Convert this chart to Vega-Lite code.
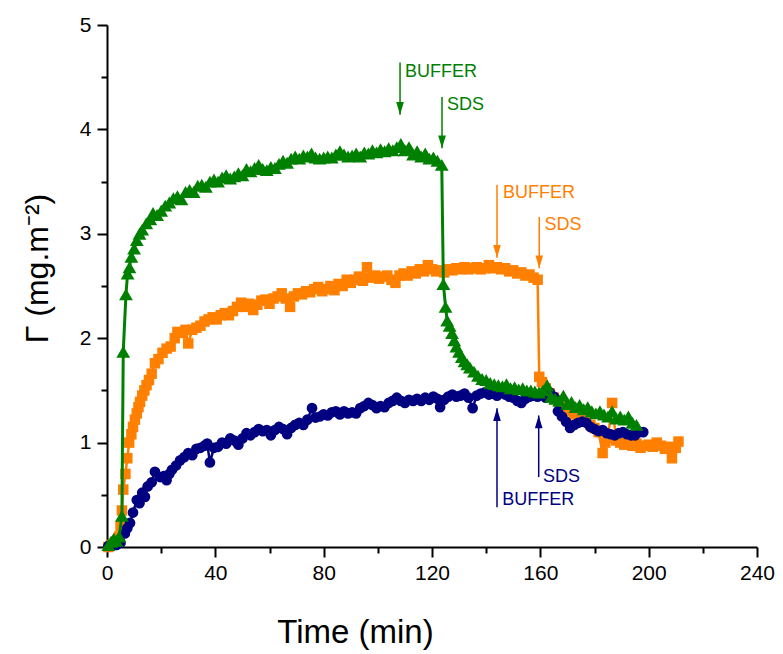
{
  "$schema": "https://vega.github.io/schema/vega-lite/v6.json",
  "width": 650,
  "height": 522,
  "autosize": {"type": "none"},
  "padding": {"left": 107, "top": 25, "right": 26, "bottom": 107},
  "background": "white",
  "config": {
    "view": {"stroke": null},
    "font": "Liberation Sans",
    "axis": {
      "grid": false,
      "domainColor": "black",
      "domainWidth": 2,
      "tickColor": "black",
      "tickWidth": 2,
      "labelColor": "black",
      "labelFont": "Liberation Sans",
      "labelFontSize": 21,
      "titleColor": "black",
      "titleFontWeight": "normal"
    }
  },
  "datasets": {
    "orange": [
      {"t":0.5,"g":0.0},{"t":1.5,"g":0.02},{"t":2.5,"g":0.03},{"t":3.5,"g":0.05},{"t":4.5,"g":0.1},{"t":5,"g":0.2},{"t":5.5,"g":0.35},{"t":6,"g":0.55},{"t":6.8,"g":0.7},{"t":7.5,"g":0.85},{"t":8.2,"g":1.0},{"t":9,"g":1.08},{"t":9.6,"g":1.15},{"t":10.3,"g":1.22},{"t":11,"g":1.28},{"t":11.6,"g":1.34},{"t":12.2,"g":1.39},{"t":13,"g":1.45},{"t":13.8,"g":1.5},{"t":14.6,"g":1.55},{"t":15.5,"g":1.6},{"t":16.5,"g":1.66},{"t":17.7,"g":1.76},{"t":19,"g":1.8},{"t":20.5,"g":1.86},{"t":22,"g":1.9},{"t":23.5,"g":1.92},{"t":25,"g":2.0},{"t":26,"g":2.06},{"t":27.5,"g":2.05},{"t":29,"g":2.08},{"t":30,"g":1.95},{"t":31.5,"g":2.08},{"t":33,"g":2.1},{"t":34.5,"g":2.12},{"t":36,"g":2.16},{"t":37.5,"g":2.18},{"t":39,"g":2.2},{"t":40.5,"g":2.18},{"t":42,"g":2.22},{"t":43.5,"g":2.24},{"t":45,"g":2.22},{"t":46.5,"g":2.26},{"t":48,"g":2.3},{"t":49.5,"g":2.34},{"t":51,"g":2.3},{"t":52.5,"g":2.33},{"t":54,"g":2.27},{"t":55.5,"g":2.32},{"t":57,"g":2.36},{"t":58.5,"g":2.37},{"t":60,"g":2.33},{"t":61.5,"g":2.38},{"t":63,"g":2.4},{"t":64.5,"g":2.43},{"t":66,"g":2.38},{"t":67.6,"g":2.3},{"t":69,"g":2.4},{"t":70.5,"g":2.43},{"t":72,"g":2.42},{"t":73.5,"g":2.45},{"t":75,"g":2.44},{"t":76.5,"g":2.47},{"t":78,"g":2.49},{"t":79.5,"g":2.45},{"t":81,"g":2.47},{"t":82.5,"g":2.5},{"t":84,"g":2.46},{"t":85.5,"g":2.52},{"t":87,"g":2.5},{"t":88.5,"g":2.56},{"t":90,"g":2.53},{"t":91.5,"g":2.56},{"t":93,"g":2.59},{"t":94.5,"g":2.55},{"t":96,"g":2.68},{"t":97.5,"g":2.58},{"t":99,"g":2.6},{"t":100.5,"g":2.57},{"t":102,"g":2.59},{"t":103.5,"g":2.6},{"t":105,"g":2.56},{"t":106.5,"g":2.53},{"t":108,"g":2.6},{"t":109.5,"g":2.62},{"t":111,"g":2.6},{"t":112.5,"g":2.64},{"t":114,"g":2.62},{"t":115.5,"g":2.66},{"t":117,"g":2.64},{"t":118.5,"g":2.7},{"t":120,"g":2.66},{"t":121.5,"g":2.64},{"t":123,"g":2.65},{"t":124.5,"g":2.63},{"t":126,"g":2.66},{"t":127.5,"g":2.65},{"t":129,"g":2.67},{"t":130.5,"g":2.66},{"t":132,"g":2.68},{"t":133.5,"g":2.66},{"t":135,"g":2.67},{"t":136.5,"g":2.68},{"t":138,"g":2.66},{"t":139.5,"g":2.67},{"t":141,"g":2.7},{"t":142.5,"g":2.67},{"t":144,"g":2.68},{"t":145.5,"g":2.66},{"t":147,"g":2.67},{"t":148.5,"g":2.64},{"t":150,"g":2.65},{"t":151.5,"g":2.62},{"t":153,"g":2.63},{"t":154.5,"g":2.6},{"t":156,"g":2.61},{"t":157.5,"g":2.58},{"t":159,"g":2.56},{"t":159.6,"g":1.63},{"t":160.6,"g":1.58},{"t":162,"g":1.52},{"t":163.5,"g":1.47},{"t":165,"g":1.43},{"t":166.5,"g":1.4},{"t":168,"g":1.36},{"t":169.5,"g":1.33},{"t":171,"g":1.3},{"t":172.5,"g":1.27},{"t":174,"g":1.25},{"t":175.5,"g":1.22},{"t":177,"g":1.2},{"t":178.5,"g":1.17},{"t":180,"g":1.14},{"t":181.5,"g":1.1},{"t":183,"g":0.9},{"t":184,"g":1.0},{"t":185,"g":1.05},{"t":186.5,"g":1.38},{"t":188,"g":1.02},{"t":189.5,"g":1.0},{"t":191,"g":0.98},{"t":192.5,"g":1.01},{"t":194,"g":0.97},{"t":195.5,"g":0.99},{"t":197,"g":0.95},{"t":198.5,"g":0.97},{"t":200,"g":0.98},{"t":201.5,"g":0.96},{"t":203,"g":1.0},{"t":204.5,"g":0.97},{"t":206,"g":0.94},{"t":207.3,"g":0.96},{"t":208.6,"g":0.85},{"t":210,"g":0.95},{"t":211,"g":1.01}
    ],
    "navy": [
      {"t":0.5,"g":0.01},{"t":2,"g":0.02},{"t":3.5,"g":0.02},{"t":5,"g":0.04},{"t":6.6,"g":0.13},{"t":7.5,"g":0.18},{"t":8.5,"g":0.23},{"t":9.6,"g":0.33},{"t":11,"g":0.45},{"t":12,"g":0.42},{"t":13,"g":0.52},{"t":14,"g":0.48},{"t":15,"g":0.58},{"t":16.5,"g":0.62},{"t":17.7,"g":0.72},{"t":19.6,"g":0.67},{"t":21,"g":0.68},{"t":22,"g":0.64},{"t":23,"g":0.7},{"t":24,"g":0.74},{"t":25.5,"g":0.78},{"t":27,"g":0.83},{"t":28.5,"g":0.86},{"t":30,"g":0.9},{"t":31.5,"g":0.88},{"t":33,"g":0.94},{"t":34.5,"g":0.95},{"t":36,"g":0.97},{"t":37,"g":0.99},{"t":38,"g":0.81},{"t":39.5,"g":0.95},{"t":41,"g":0.96},{"t":42.5,"g":1.0},{"t":44,"g":0.99},{"t":45.5,"g":1.04},{"t":47,"g":1.02},{"t":48.5,"g":0.98},{"t":50,"g":1.04},{"t":51.5,"g":1.09},{"t":53,"g":1.07},{"t":54.5,"g":1.1},{"t":56,"g":1.13},{"t":57.5,"g":1.11},{"t":59,"g":1.12},{"t":60.5,"g":1.07},{"t":62,"g":1.12},{"t":63.5,"g":1.15},{"t":65,"g":1.13},{"t":66.5,"g":1.08},{"t":68,"g":1.14},{"t":69.5,"g":1.17},{"t":71,"g":1.19},{"t":72.5,"g":1.17},{"t":74,"g":1.22},{"t":75.7,"g":1.33},{"t":77,"g":1.24},{"t":78.6,"g":1.25},{"t":80,"g":1.27},{"t":81.5,"g":1.26},{"t":83,"g":1.29},{"t":84.5,"g":1.3},{"t":86,"g":1.27},{"t":87.5,"g":1.3},{"t":89,"g":1.28},{"t":90.5,"g":1.29},{"t":92,"g":1.28},{"t":93.5,"g":1.33},{"t":95,"g":1.35},{"t":96.5,"g":1.38},{"t":98,"g":1.36},{"t":99.5,"g":1.33},{"t":101,"g":1.35},{"t":102.5,"g":1.34},{"t":104,"g":1.38},{"t":105.5,"g":1.4},{"t":107,"g":1.43},{"t":108.5,"g":1.4},{"t":110,"g":1.38},{"t":111.5,"g":1.41},{"t":113,"g":1.4},{"t":114.5,"g":1.42},{"t":116,"g":1.4},{"t":117.5,"g":1.43},{"t":119,"g":1.41},{"t":120.5,"g":1.44},{"t":122,"g":1.42},{"t":123,"g":1.34},{"t":124.5,"g":1.41},{"t":126,"g":1.44},{"t":127.5,"g":1.46},{"t":129,"g":1.44},{"t":130.5,"g":1.45},{"t":132,"g":1.47},{"t":133.5,"g":1.43},{"t":135,"g":1.33},{"t":136.5,"g":1.45},{"t":138,"g":1.47},{"t":139.5,"g":1.48},{"t":141,"g":1.46},{"t":142.5,"g":1.47},{"t":144,"g":1.45},{"t":145.5,"g":1.5},{"t":147,"g":1.46},{"t":148.5,"g":1.44},{"t":150,"g":1.43},{"t":151.5,"g":1.4},{"t":153,"g":1.38},{"t":154.5,"g":1.42},{"t":156,"g":1.44},{"t":157.5,"g":1.45},{"t":159,"g":1.44},{"t":160.5,"g":1.47},{"t":162,"g":1.43},{"t":163.5,"g":1.48},{"t":165,"g":1.44},{"t":166.5,"g":1.3},{"t":168,"g":1.25},{"t":169.5,"g":1.2},{"t":171,"g":1.14},{"t":172.5,"g":1.17},{"t":174,"g":1.19},{"t":175.5,"g":1.2},{"t":177,"g":1.19},{"t":178.5,"g":1.15},{"t":180,"g":1.13},{"t":181.5,"g":1.11},{"t":183,"g":1.12},{"t":184.5,"g":1.09},{"t":186,"g":1.08},{"t":187.5,"g":1.07},{"t":189,"g":1.09},{"t":190.5,"g":1.1},{"t":192,"g":1.08},{"t":193.5,"g":1.07},{"t":195,"g":1.07},{"t":196.5,"g":1.1},{"t":198,"g":1.1}
    ],
    "green": [
      {"t":0.5,"g":0.02},{"t":1.5,"g":0.05},{"t":2.5,"g":0.08},{"t":3.5,"g":0.06},{"t":4.5,"g":0.1},{"t":5.5,"g":0.3},{"t":6,"g":1.87},{"t":7,"g":2.42},{"t":7.6,"g":2.62},{"t":8.3,"g":2.68},{"t":9,"g":2.78},{"t":10,"g":2.86},{"t":11,"g":2.94},{"t":12,"g":3.0},{"t":13,"g":3.04},{"t":14.5,"g":3.1},{"t":16,"g":3.14},{"t":17,"g":3.2},{"t":18.5,"g":3.18},{"t":20,"g":3.22},{"t":21.5,"g":3.27},{"t":23,"g":3.3},{"t":24.5,"g":3.34},{"t":26,"g":3.36},{"t":27.5,"g":3.33},{"t":29,"g":3.4},{"t":30.5,"g":3.42},{"t":32,"g":3.4},{"t":33.5,"g":3.46},{"t":35,"g":3.47},{"t":36.5,"g":3.45},{"t":38,"g":3.5},{"t":39.5,"g":3.52},{"t":41,"g":3.5},{"t":42.5,"g":3.54},{"t":44,"g":3.56},{"t":45.5,"g":3.53},{"t":47,"g":3.55},{"t":48.5,"g":3.58},{"t":50,"g":3.56},{"t":51.5,"g":3.62},{"t":53,"g":3.6},{"t":54.5,"g":3.63},{"t":56,"g":3.66},{"t":57.5,"g":3.62},{"t":59,"g":3.61},{"t":60.5,"g":3.64},{"t":62,"g":3.63},{"t":63.5,"g":3.67},{"t":65,"g":3.7},{"t":66.5,"g":3.68},{"t":68,"g":3.72},{"t":69.5,"g":3.74},{"t":71,"g":3.72},{"t":72.5,"g":3.75},{"t":74,"g":3.74},{"t":75.5,"g":3.77},{"t":77,"g":3.73},{"t":78.5,"g":3.72},{"t":80,"g":3.73},{"t":81.5,"g":3.74},{"t":83,"g":3.73},{"t":84.5,"g":3.76},{"t":86,"g":3.79},{"t":87.5,"g":3.76},{"t":89,"g":3.74},{"t":90.5,"g":3.75},{"t":92,"g":3.77},{"t":93.5,"g":3.74},{"t":95,"g":3.78},{"t":96.5,"g":3.77},{"t":98,"g":3.8},{"t":99.5,"g":3.78},{"t":101,"g":3.81},{"t":102.5,"g":3.79},{"t":104,"g":3.82},{"t":105.5,"g":3.8},{"t":107,"g":3.83},{"t":108.5,"g":3.86},{"t":110,"g":3.8},{"t":111.5,"g":3.83},{"t":113,"g":3.76},{"t":114.5,"g":3.79},{"t":116,"g":3.74},{"t":117.5,"g":3.77},{"t":119,"g":3.72},{"t":120.5,"g":3.73},{"t":122,"g":3.7},{"t":123.6,"g":3.66},{"t":124.2,"g":2.52},{"t":125,"g":2.3},{"t":125.6,"g":2.17},{"t":126.5,"g":2.12},{"t":127.4,"g":2.05},{"t":128.2,"g":1.98},{"t":129,"g":1.92},{"t":130,"g":1.87},{"t":131,"g":1.82},{"t":132,"g":1.78},{"t":133,"g":1.75},{"t":134,"g":1.72},{"t":135.5,"g":1.68},{"t":137,"g":1.64},{"t":138.5,"g":1.61},{"t":140,"g":1.6},{"t":141.5,"g":1.57},{"t":143,"g":1.56},{"t":144.5,"g":1.55},{"t":146,"g":1.54},{"t":147.5,"g":1.56},{"t":149,"g":1.52},{"t":150.5,"g":1.53},{"t":152,"g":1.51},{"t":153.5,"g":1.52},{"t":155,"g":1.5},{"t":156.5,"g":1.5},{"t":158,"g":1.49},{"t":159.5,"g":1.48},{"t":161,"g":1.5},{"t":162.5,"g":1.55},{"t":164,"g":1.44},{"t":165.5,"g":1.42},{"t":167,"g":1.4},{"t":168.5,"g":1.45},{"t":170,"g":1.37},{"t":171.5,"g":1.39},{"t":173,"g":1.34},{"t":174.5,"g":1.36},{"t":176,"g":1.32},{"t":177.5,"g":1.34},{"t":179,"g":1.3},{"t":180.5,"g":1.28},{"t":182,"g":1.3},{"t":183.5,"g":1.27},{"t":185,"g":1.25},{"t":186.5,"g":1.3},{"t":188,"g":1.23},{"t":189.5,"g":1.25},{"t":191,"g":1.22},{"t":192.5,"g":1.25},{"t":194,"g":1.19},{"t":195.5,"g":1.17}
    ],
    "arrows": [
      {"t":108.2,"a":4.64,"b":4.14,"c":"#008000"},
      {"t":123.7,"a":4.31,"b":3.82,"c":"#008000"},
      {"t":144,"a":3.47,"b":2.77,"c":"#FF8000"},
      {"t":159.6,"a":3.16,"b":2.67,"c":"#FF8000"},
      {"t":144,"a":0.38,"b":1.33,"c":"#000080"},
      {"t":159.4,"a":0.67,"b":1.26,"c":"#000080"}
    ],
    "headsDown": [
      {"t":108.2,"b":4.14,"c":"#008000"},
      {"t":123.7,"b":3.82,"c":"#008000"},
      {"t":144,"b":2.77,"c":"#FF8000"},
      {"t":159.6,"b":2.67,"c":"#FF8000"}
    ],
    "headsUp": [
      {"t":144,"b":1.33,"c":"#000080"},
      {"t":159.4,"b":1.26,"c":"#000080"}
    ],
    "labels": [
      {"t":110,"g":4.55,"txt":"BUFFER","c":"#008000"},
      {"t":125.5,"g":4.23,"txt":"SDS","c":"#008000"},
      {"t":146.2,"g":3.39,"txt":"BUFFER","c":"#FF8000"},
      {"t":161.5,"g":3.08,"txt":"SDS","c":"#FF8000"},
      {"t":145.9,"g":0.45,"txt":"BUFFER","c":"#000080"},
      {"t":161,"g":0.67,"txt":"SDS","c":"#000080"}
    ]
  },
  "resolve": {"axis": {"x": "independent", "y": "independent"}},
  "layer": [
    {
      "data": {"name": "orange"},
      "mark": {"type": "line", "color": "#FF8000", "strokeWidth": 2.5},
      "encoding": {
        "x": {"field": "t", "type": "quantitative", "scale": {"domain": [0, 240], "nice": false},
          "axis": {"orient": "bottom", "values": [0, 40, 80, 120, 160, 200, 240], "tickSize": 10, "labelPadding": 5, "labelFlush": false,
            "title": "Time (min)", "titleFont": "Liberation Sans", "titleFontSize": 33, "titleX": 248, "titleY": 95, "titleAlign": "center", "titleBaseline": "alphabetic"}},
        "y": {"field": "g", "type": "quantitative", "scale": {"domain": [0, 5], "nice": false},
          "axis": {"orient": "left", "values": [0, 1, 2, 3, 4, 5], "tickSize": 10, "labelPadding": 6, "labelFlush": false,
            "title": "Γ (mg.m⁻²)", "titleFont": "Liberation Sans", "titleFontSize": 32, "titleAngle": -90, "titleX": -70, "titleY": 243, "titleAlign": "center", "titleBaseline": "middle"}}
      }
    },
    {
      "data": {"name": "orange"},
      "mark": {"type": "point", "shape": "square", "filled": true, "size": 110, "color": "#FF8000", "opacity": 1},
      "encoding": {
        "x": {"field": "t", "type": "quantitative", "scale": {"domain": [0, 240], "nice": false},
          "axis": {"orient": "bottom", "values": [20, 60, 100, 140, 180, 220], "tickSize": 6, "labels": false, "domain": false, "title": null}},
        "y": {"field": "g", "type": "quantitative", "scale": {"domain": [0, 5], "nice": false},
          "axis": {"orient": "left", "values": [0.5, 1.5, 2.5, 3.5, 4.5], "tickSize": 6, "labels": false, "domain": false, "title": null}}
      }
    },
    {
      "data": {"name": "navy"},
      "mark": {"type": "line", "color": "#000080", "strokeWidth": 2.5},
      "encoding": {
        "x": {"field": "t", "type": "quantitative", "scale": {"domain": [0, 240], "nice": false}, "axis": null},
        "y": {"field": "g", "type": "quantitative", "scale": {"domain": [0, 5], "nice": false}, "axis": null}
      }
    },
    {
      "data": {"name": "navy"},
      "mark": {"type": "point", "shape": "circle", "filled": true, "size": 115, "color": "#000080", "opacity": 1},
      "encoding": {
        "x": {"field": "t", "type": "quantitative", "scale": {"domain": [0, 240], "nice": false}, "axis": null},
        "y": {"field": "g", "type": "quantitative", "scale": {"domain": [0, 5], "nice": false}, "axis": null}
      }
    },
    {
      "data": {"name": "green"},
      "mark": {"type": "line", "color": "#008000", "strokeWidth": 3},
      "encoding": {
        "x": {"field": "t", "type": "quantitative", "scale": {"domain": [0, 240], "nice": false}, "axis": null},
        "y": {"field": "g", "type": "quantitative", "scale": {"domain": [0, 5], "nice": false}, "axis": null}
      }
    },
    {
      "data": {"name": "green"},
      "mark": {"type": "point", "shape": "triangle-up", "filled": true, "size": 190, "color": "#008000", "opacity": 1},
      "encoding": {
        "x": {"field": "t", "type": "quantitative", "scale": {"domain": [0, 240], "nice": false}, "axis": null},
        "y": {"field": "g", "type": "quantitative", "scale": {"domain": [0, 5], "nice": false}, "axis": null}
      }
    },
    {
      "data": {"name": "arrows"},
      "mark": {"type": "rule", "strokeWidth": 1.5},
      "encoding": {
        "x": {"field": "t", "type": "quantitative", "scale": {"domain": [0, 240], "nice": false}, "axis": null},
        "y": {"field": "a", "type": "quantitative", "scale": {"domain": [0, 5], "nice": false}, "axis": null},
        "y2": {"field": "b"},
        "color": {"field": "c", "type": "nominal", "scale": null}
      }
    },
    {
      "data": {"name": "headsDown"},
      "mark": {"type": "point", "shape": "M-0.3,-1L0.3,-1L0,0Z", "filled": true, "size": 650, "opacity": 1},
      "encoding": {
        "x": {"field": "t", "type": "quantitative", "scale": {"domain": [0, 240], "nice": false}, "axis": null},
        "y": {"field": "b", "type": "quantitative", "scale": {"domain": [0, 5], "nice": false}, "axis": null},
        "color": {"field": "c", "type": "nominal", "scale": null}
      }
    },
    {
      "data": {"name": "headsUp"},
      "mark": {"type": "point", "shape": "M-0.3,1L0.3,1L0,0Z", "filled": true, "size": 650, "opacity": 1},
      "encoding": {
        "x": {"field": "t", "type": "quantitative", "scale": {"domain": [0, 240], "nice": false}, "axis": null},
        "y": {"field": "b", "type": "quantitative", "scale": {"domain": [0, 5], "nice": false}, "axis": null},
        "color": {"field": "c", "type": "nominal", "scale": null}
      }
    },
    {
      "data": {"name": "labels"},
      "mark": {"type": "text", "align": "left", "baseline": "middle", "font": "Liberation Sans", "fontSize": 18},
      "encoding": {
        "x": {"field": "t", "type": "quantitative", "scale": {"domain": [0, 240], "nice": false}, "axis": null},
        "y": {"field": "g", "type": "quantitative", "scale": {"domain": [0, 5], "nice": false}, "axis": null},
        "text": {"field": "txt"},
        "color": {"field": "c", "type": "nominal", "scale": null}
      }
    }
  ]
}
